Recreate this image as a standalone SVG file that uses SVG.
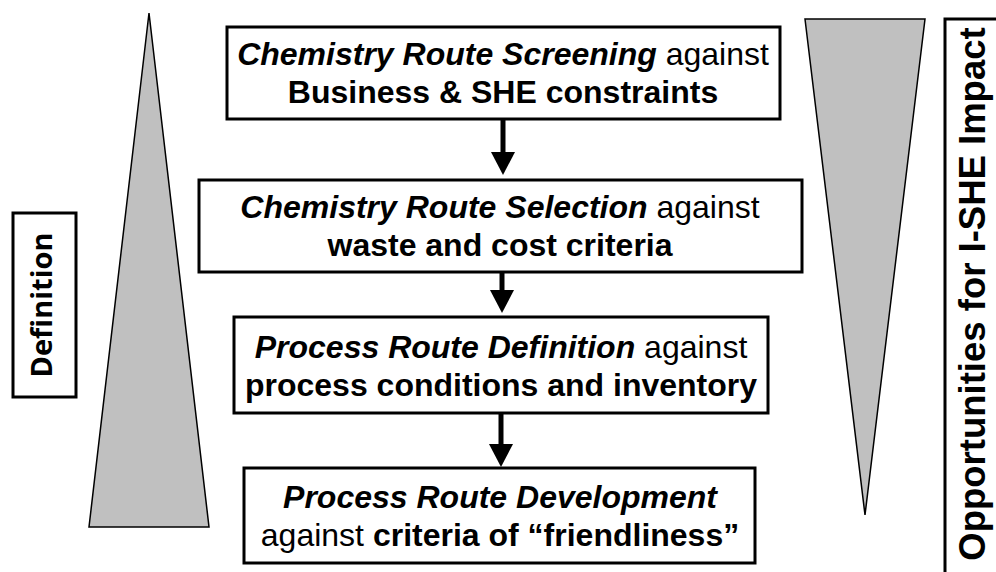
<svg xmlns="http://www.w3.org/2000/svg" width="996" height="572" viewBox="0 0 996 572">
<style>
.box{fill:#fff;stroke:#000;stroke-width:3}
.tri{fill:#c0c0c0;stroke:#000;stroke-width:1.5}
.t{font-family:"Liberation Sans",Arial,sans-serif;font-size:32px;fill:#000;text-anchor:middle}
.b{font-weight:bold}
.bi{font-weight:bold;font-style:italic}
.side{fill:#fff;stroke:#000;stroke-width:3}
.shaft{stroke:#000;stroke-width:5}
</style>
<rect width="996" height="572" fill="#fff"/>
<g id="left-triangle"><polygon class="tri" points="149,13 209,527 89,527"/></g>
<g id="right-triangle"><polygon class="tri" points="805,19 925,19 865,515"/></g>
<g id="definition">
<rect class="side" x="13" y="213" width="63" height="184"/>
<text transform="translate(52,305) rotate(-90)" style="font-family:'Open Sans','DejaVu Sans',sans-serif;font-weight:bold;font-size:29px;text-anchor:middle">Definition</text>
</g>
<g id="opportunities">
<rect class="side" x="945" y="19" width="70" height="565"/>
<text class="t b" transform="translate(985,294) rotate(-90)" style="font-size:36.5px">Opportunities for I-SHE Impact</text>
</g>
<g id="connectors">
<line class="shaft" x1="503" y1="119" x2="503" y2="155"/>
<polygon points="491,152 515,152 503,175"/>
<line class="shaft" x1="502" y1="272" x2="502" y2="292"/>
<polygon points="490,290 514,290 502,313"/>
<line class="shaft" x1="501" y1="413" x2="501" y2="446"/>
<polygon points="489,444 513,444 501,467"/>
</g>
<g id="step1">
<rect class="box" x="227" y="27" width="553" height="92"/>
<text class="t" x="503" y="65"><tspan class="bi">Chemistry Route Screening</tspan> against</text>
<text class="t b" x="503" y="103">Business &amp; SHE constraints</text>
</g>
<g id="step2">
<rect class="box" x="199" y="180" width="603" height="92"/>
<text class="t" x="500" y="218"><tspan class="bi">Chemistry Route Selection</tspan> against</text>
<text class="t b" x="500" y="256">waste and cost criteria</text>
</g>
<g id="step3">
<rect class="box" x="234" y="317" width="534" height="96"/>
<text class="t" x="501" y="358"><tspan class="bi">Process Route Definition</tspan> against</text>
<text class="t b" x="501" y="396">process conditions and inventory</text>
</g>
<g id="step4">
<rect class="box" x="244" y="468" width="511" height="95"/>
<text class="t bi" x="500" y="508">Process Route Development</text>
<text class="t" x="500" y="546">against <tspan class="b">criteria of “friendliness”</tspan></text>
</g>
</svg>
